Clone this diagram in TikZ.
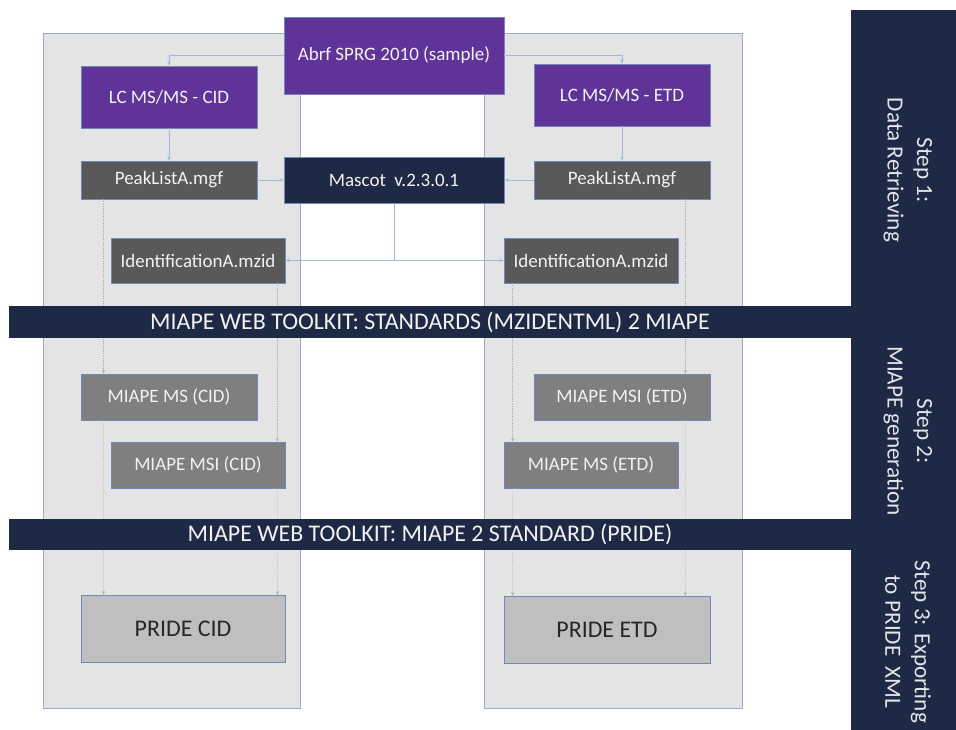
\documentclass[tikz,border=0pt]{standalone}
\usepackage{fontspec}
\setmainfont{Carlito}
\usetikzlibrary{arrows.meta}
\definecolor{panelgrey}{HTML}{E4E4E4}
\definecolor{panelline}{HTML}{9AAACB}
\definecolor{purplebox}{HTML}{5F3398}
\definecolor{navybox}{HTML}{1E2A45}
\definecolor{darkbox}{HTML}{595959}
\definecolor{midbox}{HTML}{7F7F7F}
\definecolor{lightbox}{HTML}{BFBFBF}
\definecolor{linkblue}{HTML}{A4B8DC}
\definecolor{dotgrey}{HTML}{A6A6A6}
\definecolor{boxline}{HTML}{7189B9}
\definecolor{steptext}{HTML}{E2E4EA}

\begin{document}
\begin{tikzpicture}[x=0.025cm,y=-0.025cm,
  box/.style={draw=boxline,line width=0.5pt,inner sep=0pt,text=white!95!black,
    font=\fontsize{13.5}{16}\selectfont},
  source/.style={box,fill=purplebox,minimum width=4.4cm,minimum height=1.55cm},
  filebox/.style={box,fill=darkbox,minimum height=0.95cm},
  miapebox/.style={box,fill=midbox,minimum height=1.15cm},
  pridebox/.style={box,fill=lightbox,text=black!85,minimum height=1.675cm,
    font=\fontsize{17}{20}\selectfont},
  banner/.style={fill=navybox,inner sep=0pt,minimum width=21.05cm,minimum height=0.8cm,
    text=white!95!black,font=\fontsize{17}{20}\selectfont},
  steplabel/.style={rotate=-90,align=center,text=steptext,font=\fontsize{16.5}{21}\selectfont},
  link/.style={linkblue,line width=0.6pt,-{Stealth[length=3pt,width=2.5pt]}},
  trace/.style={dotgrey,densely dotted,line width=0.5pt,-{Stealth[length=2.5pt,width=2pt]}}]
\useasboundingbox (0,0) rectangle (956,730);

% the two columns
\draw[panelline,fill=panelgrey] (43,33) rectangle (300,708);
\draw[panelline,fill=panelgrey] (484,33) rectangle (742,708);

% step 1
\node[box,fill=purplebox,minimum width=5.5cm,minimum height=1.925cm] (abrf) at (394,55.5) {Abrf SPRG 2010 (sample)};
\node[source] (lccid) at (169,97) {LC MS/MS - CID};
\node[source] (lcetd) at (622,95) {LC MS/MS - ETD};
\node[filebox,minimum width=4.4cm] (peakcid) at (169,180) {PeakListA.mgf};
\node[filebox,minimum width=4.4cm] (peaketd) at (622,180) {PeakListA.mgf};
\node[box,fill=navybox,minimum width=5.5cm,minimum height=1.15cm] (mascot) at (394,180) {Mascot\ \ v.2.3.0.1};
\node[filebox,minimum width=4.35cm,minimum height=1.125cm] (identcid) at (198,260.5) {IdentificationA.mzid};
\node[filebox,minimum width=4.35cm,minimum height=1.125cm] (identetd) at (591,260.5) {IdentificationA.mzid};

% step 2
\node[miapebox,minimum width=4.4cm] (mscid) at (169,397) {MIAPE MS (CID)};
\node[miapebox,minimum width=4.35cm] (msicid) at (198,465) {MIAPE MSI (CID)};
\node[miapebox,minimum width=4.4cm] (msietd) at (622,397) {MIAPE MSI (ETD)};
\node[miapebox,minimum width=4.35cm] (msetd) at (591,465) {MIAPE MS (ETD)};

% step 3
\node[pridebox,minimum width=5.1cm] (pridecid) at (183,628.5) {PRIDE CID};
\node[pridebox,minimum width=5.15cm] (prideetd) at (607,629.5) {PRIDE ETD};

% blue links
\draw[link] (abrf.west) -| (lccid.north);
\draw[link] (abrf.east) -| (lcetd.north);
\draw[link] (lccid.south) -- (peakcid.north -| lccid.south);
\draw[link] (lcetd.south) -- (peaketd.north -| lcetd.south);
\draw[link] (peakcid.east) -- (mascot.west);
\draw[link] (peaketd.west) -- (mascot.east);
\draw[link] (mascot.south) |- (identcid.east);
\draw[link] (mascot.south) |- (identetd.west);

% grey traces down the columns
\draw[trace] ([xshift=0.575cm]peakcid.south west) -- ([xshift=0.575cm]mscid.north west);
\draw[trace] ([xshift=0.575cm]mscid.south west) -- ([xshift=0.575cm]pridecid.north west);
\draw[trace] ([xshift=-0.2cm]identcid.south east) -- ([xshift=-0.2cm]msicid.north east);
\draw[trace] ([xshift=-0.2cm]msicid.south east) -- ([xshift=-0.2cm]pridecid.north east);
\draw[trace] ([xshift=0.225cm]identetd.south west) -- ([xshift=0.225cm]msetd.north west);
\draw[trace] ([xshift=0.225cm]msetd.south west) -- ([xshift=0.225cm]prideetd.north west);
\draw[trace] ([xshift=-0.625cm]peaketd.south east) -- ([xshift=-0.625cm]msietd.north east);
\draw[trace] ([xshift=-0.625cm]msietd.south east) -- ([xshift=-0.625cm]prideetd.north east);

% toolkit banners
\node[banner] (tomiape) at (430,322) {MIAPE WEB TOOLKIT: STANDARDS (MZIDENTML) 2 MIAPE};
\node[banner,minimum height=0.775cm] (topride) at (430,534.5) {MIAPE WEB TOOLKIT: MIAPE 2 STANDARD (PRIDE)};

% step bar
\fill[navybox] (851,10) rectangle (956,730);
\node[steplabel] (step1) at (908,170) {Step 1:\\Data Retrieving};
\node[steplabel] (step2) at (908,431) {Step 2:\\MIAPE generation};
\node[steplabel] (step3) at (908,642) {Step 3: Exporting\\to PRIDE\ \ XML};
\end{tikzpicture}
\end{document}
